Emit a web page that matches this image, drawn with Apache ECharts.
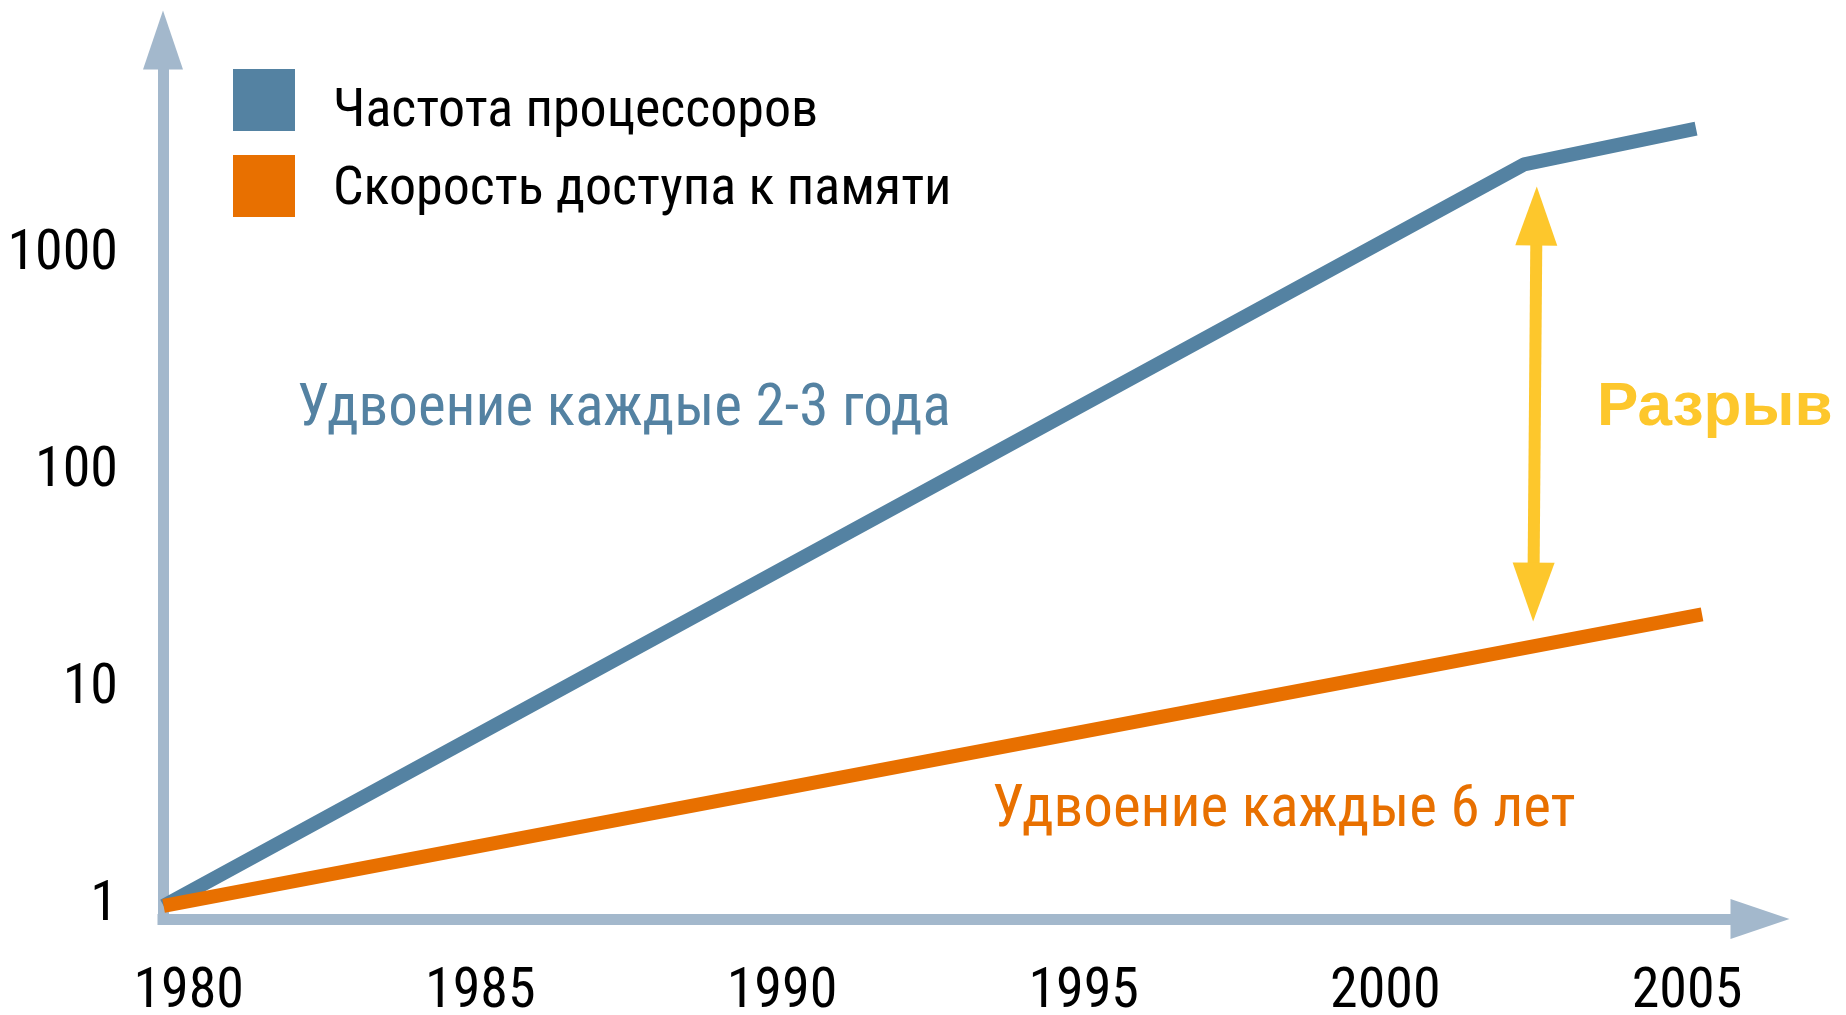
<!DOCTYPE html>
<html>
<head>
<meta charset="utf-8">
<script src="https://cdn.jsdelivr.net/npm/echarts@6/dist/echarts.min.js"></script>
<style>
  html, body { margin: 0; padding: 0; background: #fff; }
  #chart { width: 1846px; height: 1015px; }
</style>
</head>
<body>
<div id="chart"></div>
<script>
const mychart = echarts.init(document.getElementById('chart'))

// data
var xTicks = [1980, 1985, 1990, 1995, 2000, 2005]
var yTicks = [1, 10, 100, 1000]
var cpuData = [[1979.75, 1], [2002.3, 2600], [2005.15, 3800]]
var memData = [[1979.75, 1], [2005.25, 22]]
// double arrow between the two lines: [x top, y top, x bottom, y bottom]
var gapArrow = [[2002.51, 2057, 2002.45, 20.4]]

var names = ['Частота процессоров', 'Скорость доступа к памяти']
var notes = ['Удвоение каждые 2-3 года', 'Удвоение каждые 6 лет', 'Разрыв']

var BLUE = '#5482A2'
var ORANGE = '#E87000'
var AXIS = '#A3B8CC'
var YELLOW = '#FDC72C'
var FONT = '"Roboto Condensed", Roboto, sans-serif'

function drawArrow(params, api) {
    var a = api.coord([api.value(0), api.value(1)])
    var b = api.coord([api.value(2), api.value(3)])
    var dx = b[0] - a[0], dy = b[1] - a[1]
    var len = Math.sqrt(dx * dx + dy * dy)
    var ux = dx / len, uy = dy / len
    var nx = -uy, ny = ux
    var hl = 59, hw = 21
    var a2 = [a[0] + ux * hl, a[1] + uy * hl]
    var b2 = [b[0] - ux * hl, b[1] - uy * hl]
    return {
        type: 'group',
        children: [
            {
                type: 'line',
                shape: { x1: a2[0], y1: a2[1] - 1, x2: b2[0], y2: b2[1] + 1 },
                style: { stroke: YELLOW, lineWidth: 12 }
            },
            {
                type: 'polygon',
                shape: { points: [a, [a2[0] + nx * hw, a2[1] + ny * hw], [a2[0] - nx * hw, a2[1] - ny * hw]] },
                style: { fill: YELLOW }
            },
            {
                type: 'polygon',
                shape: { points: [b, [b2[0] + nx * hw, b2[1] + ny * hw], [b2[0] - nx * hw, b2[1] - ny * hw]] },
                style: { fill: YELLOW }
            }
        ]
    }
}

mychart.setOption({
    backgroundColor: '#fff',
    animation: false,
    grid: {
        left: 163,
        right: 86,
        top: 40,
        bottom: 96,
        containLabel: false,
        outerBoundsMode: 'none'
    },
    legend: {
        orient: 'vertical',
        left: 233,
        top: 69,
        padding: 0,
        icon: 'rect',
        itemWidth: 62,
        itemHeight: 62,
        itemGap: 16,
        data: names,
        selectedMode: false,
        // the labels sit a bit below the middle of their squares
        formatter: function (name) {
            return '{s' + names.indexOf(name) + '|\u200b}{a|' + name + '}'
        },
        textStyle: {
            color: '#000',
            fontSize: 54,
            fontFamily: FONT,
            padding: [0, 0, 0, 33],
            rich: {
                s0: { fontSize: 54, fontFamily: FONT, lineHeight: 78 },
                s1: { fontSize: 54, fontFamily: FONT, lineHeight: 62 },
                a: { fontSize: 54, fontFamily: FONT, color: '#000', lineHeight: 56, verticalAlign: 'bottom' }
            }
        }
    },
    xAxis: {
        type: 'value',
        min: 1979.74,
        max: 2006.21,
        splitLine: { show: false },
        axisTick: { show: false },
        axisLine: {
            onZero: false,
            symbol: ['none', 'triangle'],
            symbolSize: [40, 59],
            lineStyle: { color: AXIS, width: 11, cap: 'square' }
        },
        axisLabel: {
            customValues: xTicks,
            margin: 46,
            color: '#000',
            fontSize: 56,
            fontFamily: FONT,
            formatter: function (v) {
                return v === 1980 ? '{f|' + v + '}' : String(v)
            },
            rich: {
                f: { fontSize: 56, fontFamily: FONT, color: '#000', padding: [0, 0, 0, 20] }
            }
        }
    },
    yAxis: {
        type: 'log',
        logBase: 10,
        min: 0.871,
        max: 9730,
        splitLine: { show: false },
        axisTick: { show: false },
        axisLine: {
            onZero: false,
            symbol: ['none', 'triangle'],
            symbolSize: [40, 59],
            lineStyle: { color: AXIS, width: 11, cap: 'square' }
        },
        axisLabel: {
            customValues: yTicks,
            margin: 45,
            color: '#000',
            fontSize: 56,
            fontFamily: FONT,
            formatter: function (v) { return String(v) }
        }
    },
    series: [
        {
            name: names[0],
            type: 'line',
            data: cpuData,
            showSymbol: false,
            clip: false,
            color: BLUE,
            itemStyle: { color: BLUE },
            lineStyle: { color: BLUE, width: 14 }
        },
        {
            name: names[1],
            type: 'line',
            data: memData,
            showSymbol: false,
            clip: false,
            color: ORANGE,
            itemStyle: { color: ORANGE },
            lineStyle: { color: ORANGE, width: 14 }
        },
        {
            type: 'custom',
            data: gapArrow,
            encode: { x: [0, 2], y: [1, 3] },
            clip: false,
            renderItem: drawArrow
        }
    ],
    graphic: [
        {
            type: 'text',
            x: 297,
            y: 410,
            style: {
                text: notes[0],
                fill: BLUE,
                font: '59px ' + FONT,
                textAlign: 'left',
                textVerticalAlign: 'middle'
            }
        },
        {
            type: 'text',
            x: 992,
            y: 811,
            style: {
                text: notes[1],
                fill: ORANGE,
                font: '59px ' + FONT,
                textAlign: 'left',
                textVerticalAlign: 'middle'
            }
        },
        {
            type: 'text',
            x: 1597,
            y: 408,
            style: {
                text: notes[2],
                fill: YELLOW,
                font: 'bold 62px "Liberation Sans", Arial, sans-serif',
                textAlign: 'left',
                textVerticalAlign: 'middle'
            }
        }
    ]
})
</script>
</body>
</html>
